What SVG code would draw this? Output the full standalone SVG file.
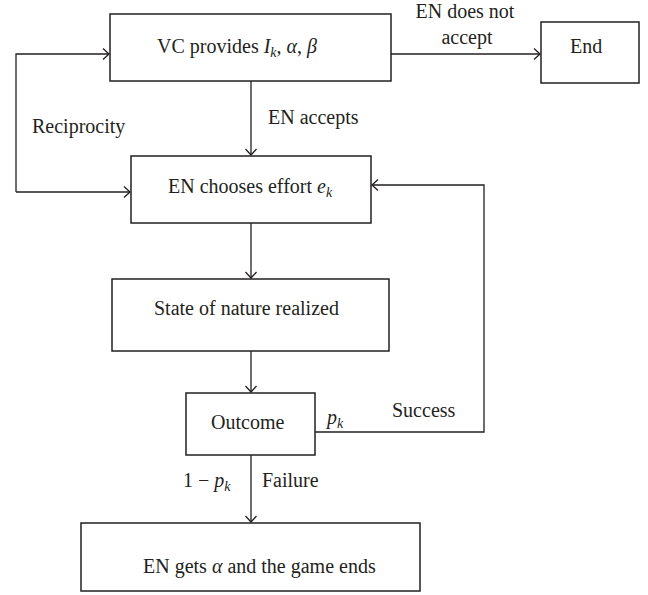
<svg xmlns="http://www.w3.org/2000/svg" width="648" height="595" viewBox="0 0 648 595">
<style>
.box{fill:#fff;stroke:#231f20;stroke-width:1.5}
.ln{fill:none;stroke:#231f20;stroke-width:1.3}
text{font-family:"Liberation Serif","Times New Roman",serif;font-size:20px;fill:#231f20}
.m{font-style:italic}
.s{font-style:italic;font-size:14px}
</style>
<defs>
<marker id="arr" markerWidth="10" markerHeight="12" refX="0" refY="0" viewBox="-8 -6 10 12" orient="auto" markerUnits="userSpaceOnUse">
<path d="M-6,-5.5 L0,0 L-6,5.5" fill="none" stroke="#231f20" stroke-width="1.3"/>
</marker>
</defs>
<rect width="648" height="595" fill="#fff"/>
<g id="connectors">
<path class="ln" d="M391,54 H540" marker-end="url(#arr)"/>
<path class="ln" d="M251,81 V155" marker-end="url(#arr)"/>
<path class="ln" d="M16,192 V54 H109" marker-end="url(#arr)"/>
<path class="ln" d="M16,192 H130" marker-end="url(#arr)"/>
<path class="ln" d="M251,223 V278" marker-end="url(#arr)"/>
<path class="ln" d="M251,351 V392" marker-end="url(#arr)"/>
<path class="ln" d="M315,432 H484 V185 H372" marker-end="url(#arr)"/>
<path class="ln" d="M251,455 V522" marker-end="url(#arr)"/>
<text x="465" y="18" text-anchor="middle">EN does not</text>
<text x="467" y="44" text-anchor="middle">accept</text>
<text x="32" y="133">Reciprocity</text>
<text x="268" y="124">EN accepts</text>
<text x="327" y="424" class="m">p<tspan class="s" dy="4">k</tspan></text>
<text x="392" y="417">Success</text>
<text x="183" y="487">1 − <tspan class="m">p</tspan><tspan class="s" dy="4">k</tspan></text>
<text x="262" y="487">Failure</text>
</g>
<g id="vc">
<rect class="box" x="110" y="14" width="281" height="67"/>
<text x="157" y="53">VC provides <tspan class="m">I</tspan><tspan class="s" dy="4">k</tspan><tspan dy="-4">, </tspan><tspan class="m">α</tspan>, <tspan class="m">β</tspan></text>
</g>
<g id="end">
<rect class="box" x="541" y="22" width="98" height="61"/>
<text x="570" y="53">End</text>
</g>
<g id="effort">
<rect class="box" x="131" y="156" width="240" height="67"/>
<text x="168" y="193">EN chooses effort <tspan class="m">e</tspan><tspan class="s" dy="4">k</tspan></text>
</g>
<g id="nature">
<rect class="box" x="112" y="279" width="277" height="72"/>
<text x="154" y="315">State of nature realized</text>
</g>
<g id="outcome">
<rect class="box" x="186" y="393" width="129" height="62"/>
<text x="211" y="429">Outcome</text>
</g>
<g id="gameend">
<rect class="box" x="81" y="523" width="339" height="68"/>
<text x="143" y="573">EN gets <tspan class="m">α</tspan> and the game ends</text>
</g>
</svg>
